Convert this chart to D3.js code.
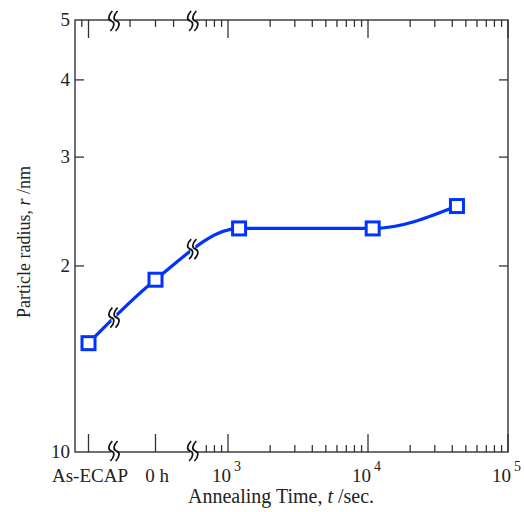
<!DOCTYPE html>
<html>
<head>
<meta charset="utf-8">
<script src="https://cdn.jsdelivr.net/npm/d3@7"></script>
<style>
  body { margin: 0; background: #fff; }
  svg { font-family: "Liberation Serif", "DejaVu Serif", serif; }
</style>
</head>
<body>
<div id="chart"></div>
<script>
// data
const categories = ["As-ECAP", "0 h"];
const categoryRadius = [1.50, 1.90];
const annealTimes = [1200, 10800, 43200];   // seconds
const annealRadius = [2.30, 2.30, 2.50];
const yTicks = [1, 2, 3, 4, 5];
const yTickLabels = ["10", "2", "3", "4", "5"];
const timeMajor = [1e3, 1e4, 1e5];
const timeExps = ["3", "4", "5"];

const width = 524, height = 512;
const plotLeft = 75, plotRight = 508, plotTop = 20, plotBottom = 452;
const axisColor = "#333";
const blue = "#0033ff";

const svg = d3.select("#chart").append("svg")
  .attr("width", width).attr("height", height);

const y = d3.scaleLog().domain([1, 5]).range([plotBottom, plotTop]);
const xc = d3.scaleLinear().domain([0, 1]).range([88.5, 155.5]);
const xt = d3.scaleLog().domain([1e3, 1e5]).range([228, 508]);

const catBreak = 0.38;   // between As-ECAP and 0 h
const timeBreak = 560;   // seconds

// frame
svg.append("rect")
  .attr("x", plotLeft).attr("y", plotTop)
  .attr("width", plotRight - plotLeft).attr("height", plotBottom - plotTop)
  .attr("fill", "none").attr("stroke", axisColor).attr("stroke-width", 1.4);

// x ticks
const minorTimes = [];
[100, 1000, 10000].forEach(dec => {
  for (let k = 2; k <= 9; k++) {
    const t = dec * k;
    if (t > timeBreak * 1.15) minorTimes.push(t);
  }
});
const xTicks = [];
categories.forEach((c, i) => xTicks.push({ x: xc(i), len: 18, side: "bottom" }));
xTicks.push({ x: xc(0), len: 18, side: "top" });
[-0.1, 0.62, 1, 1.27].forEach(v => xTicks.push({ x: xc(v), len: 7, side: "top" }));
timeMajor.forEach(t => {
  xTicks.push({ x: xt(t), len: 18, side: "bottom" });
  xTicks.push({ x: xt(t), len: 18, side: "top" });
});
minorTimes.forEach(t => {
  xTicks.push({ x: xt(t), len: 7, side: "bottom" });
  xTicks.push({ x: xt(t), len: 7, side: "top" });
});
svg.append("g").selectAll("line").data(xTicks).join("line")
  .attr("x1", d => d.x).attr("x2", d => d.x)
  .attr("y1", d => d.side === "bottom" ? plotBottom : plotTop)
  .attr("y2", d => d.side === "bottom" ? plotBottom - d.len : plotTop + d.len)
  .attr("stroke", axisColor).attr("stroke-width", 1.3);

// y ticks both sides
const yInner = yTicks.filter(v => v > 1 && v < 5);
svg.append("g").selectAll("line").data(yInner.flatMap(v => [[v, plotLeft, 9], [v, plotRight, -9]])).join("line")
  .attr("x1", d => d[1]).attr("x2", d => d[1] + d[2])
  .attr("y1", d => y(d[0])).attr("y2", d => y(d[0]))
  .attr("stroke", axisColor).attr("stroke-width", 1.3);

// y tick labels
svg.append("g").selectAll("text").data(yTicks).join("text")
  .attr("x", plotLeft - 5).attr("y", d => y(d) + 6)
  .attr("text-anchor", "end").attr("font-size", 19).attr("fill", "#222")
  .text((d, i) => yTickLabels[i]);

// x tick labels
svg.append("g").selectAll("text").data(categories).join("text")
  .attr("x", (d, i) => xc(i) + 1.5).attr("y", 482)
  .attr("text-anchor", "middle").attr("font-size", 19).attr("fill", "#222")
  .text(d => d);
const tl = svg.append("g").selectAll("text").data(timeMajor).join("text")
  .attr("x", d => xt(d) - 16).attr("y", 482)
  .attr("font-size", 19).attr("fill", "#222");
tl.append("tspan").text("10");
tl.append("tspan").attr("dx", 3).attr("dy", -11).attr("font-size", 14)
  .text((d, i) => timeExps[i]);

// axis titles
const xl = svg.append("text").attr("x", 281).attr("y", 503)
  .attr("text-anchor", "middle").attr("font-size", 20).attr("fill", "#222");
xl.append("tspan").text("Annealing Time, ");
xl.append("tspan").attr("font-style", "italic").text("t");
xl.append("tspan").text(" /sec.");

const yl = svg.append("text")
  .attr("transform", `translate(30,242) rotate(-90)`)
  .attr("text-anchor", "middle").attr("font-size", 18).attr("fill", "#222");
yl.append("tspan").text("Particle radius, ");
yl.append("tspan").attr("font-style", "italic").text("r");
yl.append("tspan").text(" /nm");

// data curve
const pts = categories.map((c, i) => [xc(i), y(categoryRadius[i])])
  .concat(annealTimes.map((t, i) => [xt(t), y(annealRadius[i])]));
const path = svg.append("path")
  .attr("d", d3.line().curve(d3.curveMonotoneX)(pts))
  .attr("fill", "none").attr("stroke", blue).attr("stroke-width", 3.2);

// break marks: double squiggle with a white gap
function breakMark(cx, cy, h) {
  const g = svg.append("g").attr("transform", `translate(${cx},${cy})`);
  g.append("rect").attr("x", -2.5).attr("y", -4).attr("width", 5).attr("height", 8)
    .attr("fill", "#fff");
  const s = h / 2;
  [-2.6, 2.6].forEach(dx => {
    g.append("path")
      .attr("d", `M${dx + 1},${-s} C${dx - 3.5},${-s * 0.55} ${dx - 3.5},${-s * 0.1} ${dx},0 C${dx + 3.5},${s * 0.1} ${dx + 3.5},${s * 0.55} ${dx - 1},${s}`)
      .attr("fill", "none").attr("stroke", "#111").attr("stroke-width", 1.7);
  });
}

function curveYAt(px) {
  const node = path.node(), L = node.getTotalLength();
  let best = null;
  for (let l = 0; l <= L; l += 0.5) {
    const p = node.getPointAtLength(l);
    if (!best || Math.abs(p.x - px) < Math.abs(best.x - px)) best = p;
  }
  return best.y;
}

const breakXs = [xc(catBreak), xt(timeBreak)];
breakXs.forEach(bx => {
  breakMark(bx, plotBottom - 1, 20);
  breakMark(bx, plotTop + 1, 20);
  breakMark(bx, curveYAt(bx), 20);
});

// markers
svg.append("g").selectAll("rect").data(pts).join("rect")
  .attr("x", d => d[0] - 6.5).attr("y", d => d[1] - 6.5)
  .attr("width", 13).attr("height", 13)
  .attr("fill", "#fff").attr("stroke", blue).attr("stroke-width", 3);
</script>
</body>
</html>
